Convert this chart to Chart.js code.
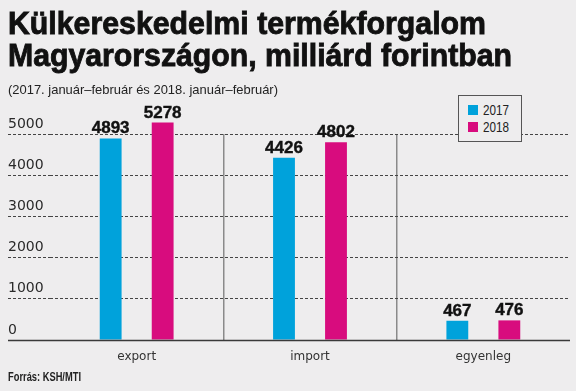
<!DOCTYPE html>
<html>
<head>
<meta charset="utf-8">
<script src="https://cdn.jsdelivr.net/npm/chart.js@4"></script>
<style>
html,body{margin:0;padding:0;background:#eeedee;width:576px;height:391px;overflow:hidden;}
#wrap{position:relative;width:576px;height:391px;}
#c{position:absolute;left:0;top:0;}
.t{position:absolute;left:8px;white-space:nowrap;transform-origin:0 0;font-family:"Liberation Sans",Arial,sans-serif;color:#111;line-height:1;margin:0;}
#t1,#t2{font-size:32px;font-weight:bold;-webkit-text-stroke:0.9px #111;}
#t1{top:7px;}
#t2{top:39px;}
#sub{top:83px;font-size:13px;color:#222;}
#src{top:371px;font-size:12px;font-weight:bold;color:#222;}
#legend{position:absolute;left:458px;top:95px;width:62px;height:45px;border:1px solid #555;background:#eeedee;}
.li{position:absolute;left:9px;height:14px;}
.sw{position:absolute;left:0;top:2px;width:10px;height:10px;}
.lt{position:absolute;left:15px;top:0;font-family:"Liberation Sans",Arial,sans-serif;font-size:14px;line-height:14px;color:#222;white-space:nowrap;transform-origin:0 0;}
</style>
</head>
<body>
<div id="wrap">
<canvas id="c" width="576" height="391"></canvas>
<div class="t" id="t1" data-w="478">Külkereskedelmi termékforgalom</div>
<div class="t" id="t2" data-w="504">Magyarországon, milliárd forintban</div>
<div class="t" id="sub" data-w="270">(2017. január–február és 2018. január–február)</div>
<div class="t" id="src" data-w="73">Forrás: KSH/MTI</div>
<div id="legend"></div>
</div>
<script>
const categories = ['export', 'import', 'egyenleg'];
const series2017 = [4893, 4426, 467];
const series2018 = [5278, 4802, 476];
const seriesLabels = ['2017', '2018'];
const seriesColors = ['#00a2db', '#d80c7e'];
const yTicks = [0, 1000, 2000, 3000, 4000, 5000];

// fit HTML texts to measured widths
document.querySelectorAll('[data-w]').forEach(el => {
  const w = el.getBoundingClientRect().width;
  const target = parseFloat(el.dataset.w);
  el.style.transform = 'scaleX(' + (target / w) + ')';
});

// legend
const legend = document.getElementById('legend');
seriesLabels.forEach((lab, i) => {
  const item = document.createElement('div');
  item.className = 'li';
  item.style.top = (7 + i * 17) + 'px';
  const sw = document.createElement('div');
  sw.className = 'sw';
  sw.style.background = seriesColors[i];
  const lt = document.createElement('div');
  lt.className = 'lt';
  lt.textContent = lab;
  item.appendChild(sw); item.appendChild(lt);
  legend.appendChild(item);
  const w = lt.getBoundingClientRect().width;
  lt.style.transform = 'scaleX(' + (26 / w) + ')';
});

const valueLabels = {
  id: 'valueLabels',
  afterDatasetsDraw(chart) {
    const ctx = chart.ctx;
    ctx.save();
    ctx.font = 'bold 17px "Liberation Sans", Arial, sans-serif';
    ctx.fillStyle = '#111';
    ctx.strokeStyle = '#111';
    ctx.lineWidth = 0.4;
    ctx.textAlign = 'center';
    ctx.textBaseline = 'alphabetic';
    chart.data.datasets.forEach((ds, i) => {
      chart.getDatasetMeta(i).data.forEach((el, j) => {
        ctx.fillText(String(ds.data[j]), el.x, el.y - 5);
        ctx.strokeText(String(ds.data[j]), el.x, el.y - 5);
      });
    });
    ctx.restore();
  }
};

// solid baseline at value 0, spanning the y-axis area and chart area
const baseline = {
  id: 'baseline',
  afterDraw(chart) {
    const y = chart.scales.y;
    const py = Math.round(y.getPixelForValue(0)) + 0.5;
    const ctx = chart.ctx;
    ctx.save();
    ctx.strokeStyle = '#3a3a3a';
    ctx.lineWidth = 1.3;
    ctx.beginPath();
    ctx.moveTo(y.left, py);
    ctx.lineTo(chart.chartArea.right, py);
    ctx.stroke();
    ctx.restore();
  }
};

const isZero = c => c.tick && c.tick.value === 0;

new Chart(document.getElementById('c'), {
  type: 'bar',
  data: {
    labels: categories,
    datasets: [
      { label: seriesLabels[0], data: series2017, backgroundColor: seriesColors[0], clip: false,
        categoryPercentage: 0.6, barPercentage: 0.42 },
      { label: seriesLabels[1], data: series2018, backgroundColor: seriesColors[1], clip: false,
        categoryPercentage: 0.6, barPercentage: 0.42 }
    ]
  },
  options: {
    responsive: false,
    animation: false,
    events: [],
    layout: { padding: { left: 8, right: 6, top: 134, bottom: 16.6 } },
    plugins: { legend: { display: false }, title: { display: false }, tooltip: { enabled: false } },
    scales: {
      x: {
        offset: true,
        grid: {
          offset: true,
          drawTicks: false,
          lineWidth: 1.5,
          color: c => (c.index === 1 || c.index === 2) ? '#8a8a8a' : 'rgba(0,0,0,0)'
        },
        border: { display: false },
        ticks: { padding: 10, color: '#333', font: { family: 'DejaVu Sans', size: 12 } }
      },
      y: {
        min: 0,
        max: 5000,
        afterBuildTicks: s => { s.ticks = yTicks.map(v => ({ value: v })); },
        afterFit: s => { s.width = 42; },
        border: { display: false, dash: [3, 2] },
        grid: {
          color: c => isZero(c) ? 'rgba(0,0,0,0)' : '#444',
          lineWidth: 1,
          drawTicks: true,
          tickLength: 42,
          tickColor: c => isZero(c) ? 'rgba(0,0,0,0)' : '#444',
          tickBorderDash: [3, 2]
        },
        ticks: {
          crossAlign: 'far',
          labelOffset: -10,
          padding: 0,
          color: '#2a2a2a',
          font: { family: 'DejaVu Sans', size: 14 },
          callback: v => String(v)
        }
      }
    }
  },
  plugins: [valueLabels, baseline]
});
</script>
</body>
</html>
